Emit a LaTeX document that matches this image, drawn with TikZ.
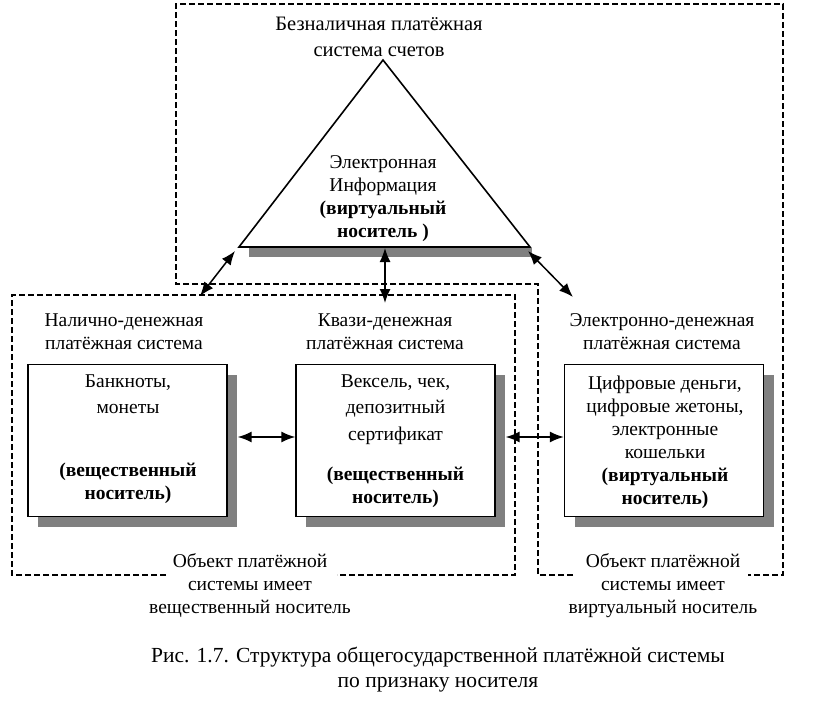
\documentclass[tikz,border=0pt]{standalone}
\usepackage{fontspec}
\setmainfont{Liberation Serif}
\usetikzlibrary{arrows.meta,shadows}
\begin{document}
\begin{tikzpicture}[x=1pt,y=-1pt,
  txt/.style={align=center, font=\fontsize{19.5}{23}\selectfont, inner sep=0pt},
  titletxt/.style={align=center, font=\fontsize{20.5}{26}\selectfont, inner sep=0pt},
  captxt/.style={align=center, font=\fontsize{21.5}{25}\selectfont, inner sep=0pt},
  box/.style={draw, line width=1.4pt, fill=white, minimum width=199pt, minimum height=152pt, inner sep=0pt,
    drop shadow={shadow xshift=10pt, shadow yshift=-10pt, fill=black!50, draw=none, opacity=1}},
  frame/.style={line width=1.1pt, dash pattern=on 6pt off 3pt},
  arr/.style={line width=1.5pt, {Latex[length=14pt,width=11pt]}-{Latex[length=14pt,width=11pt]}}
]
\useasboundingbox[fill=white] (0,0) rectangle (828,712);

% dashed frames
\draw[frame] (573,575) -- (538,575) -- (538,284) -- (176,284) -- (176,4) -- (783,4) -- (783,575) -- (748,575);
\draw[frame] (166,575) -- (12,575) -- (12,295) -- (515,295) -- (515,575) -- (337,575);

% triangle
\coordinate (apex) at (383,60);
\coordinate (tl) at (239,247);
\coordinate (tr) at (530,247);
\fill[black!50] (249,248) rectangle (532,257);
\draw[line width=1.6pt, fill=white, line join=miter] (apex) -- (tl) -- (tr) -- cycle;

\node[titletxt] (ttl) at (379,37) {Безналичная платёжная\\система счетов};
\node[txt] (tri) at (383,198.5) {Электронная\\Информация\\\textbf{(виртуальный}\\\textbf{носитель )}};

% subsystem labels
\node[txt] (l1) at (124,332) {Налично-денежная\\платёжная система};
\node[txt] (l2) at (385,332) {Квази-денежная\\платёжная система};
\node[txt] (l3) at (662,332) {Электронно-денежная\\платёжная система};

% boxes
\node[box] (b1) at (127.5,440.5) {};
\node[box] (b2) at (395.5,440.5) {};
\node[box] (b3) at (664,440.5) {};

\node[txt] (b1t) at (128,439.5) {Банкноты,\\[3pt]монеты\\[40pt]\textbf{(вещественный}\\\textbf{носитель)}};
\node[txt] (b2t) at (395.5,441.5) {Вексель, чек,\\[3pt]депозитный\\[4pt]сертификат\\[17pt]\textbf{(вещественный}\\\textbf{носитель)}};
\node[txt] (b3t) at (665,442) {Цифровые деньги,\\цифровые жетоны,\\электронные\\кошельки\\\textbf{(виртуальный}\\\textbf{носитель)}};

% bottom texts
\node[txt] (o1) at (250,585.5) {Объект платёжной\\системы имеет\\вещественный носитель};
\node[txt] (o2) at (663,585.5) {Объект платёжной\\системы имеет\\виртуальный носитель};

% caption
\node[captxt] (cap) at (438,669.5) {Рис. 1.7. Структура общегосударственной платёжной системы\\по признаку носителя};

% arrows
\coordinate (la) at (235,251);
\coordinate (lb) at (200,296);
\coordinate (ma) at (385,248);
\coordinate (mb) at (385,303);
\coordinate (ra) at (528,251);
\coordinate (rb) at (573,297);
\draw[arr] (la) -- (lb);
\draw[arr] (ma) -- (mb);
\draw[arr] (ra) -- (rb);
\draw[arr] ([xshift=10pt,yshift=3.5pt]b1.east) -- ([yshift=3.5pt]b2.west);
\draw[arr] ([xshift=10pt,yshift=3.5pt]b2.east) -- ([yshift=3.5pt]b3.west);
\end{tikzpicture}
\end{document}
